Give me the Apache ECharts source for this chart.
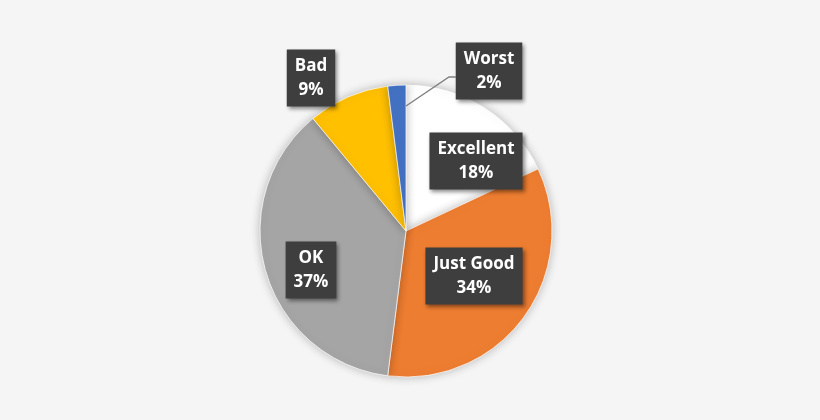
<!DOCTYPE html>
<html><head><meta charset="utf-8">
<script src="https://cdn.jsdelivr.net/npm/echarts@6/dist/echarts.min.js"></script>
<style>html,body{margin:0;padding:0;background:#F5F5F5;}#c{width:820px;height:420px;}</style>
</head><body><div id="c"></div>
<script>
const categories = ['Excellent', 'Just Good', 'OK', 'Bad', 'Worst'];
const values = [18, 34, 37, 9, 2];
const colors = ['#FFFFFF', '#ED7D31', '#A5A5A5', '#FFC000', '#4472C4'];
// label box centres, relative to the pie centre (px)
const labelOffsets = [[70, -70], [68, 45], [-95, 39], [-95, -153], [83, -160]];
const worstLeader = [[0, -125], [43, -154], [50, -154]];

const cx = 406, cy = 231;
const chart = echarts.init(document.getElementById('c'));
chart.setOption({
  backgroundColor: '#F5F5F5',
  animation: false,
  graphic: [{
    type: 'polyline',
    z: 100,
    shape: { points: worstLeader.map(function (pt) { return [cx + pt[0], cy + pt[1]]; }) },
    style: { stroke: '#7F7F7F', lineWidth: 1.3, fill: null }
  }],
  series: [{
    type: 'pie',
    center: [cx, cy],
    radius: 146,
    startAngle: 90,
    clockwise: true,
    z: 2,
    itemStyle: {
      borderColor: 'rgba(255,255,255,0.7)',
      borderWidth: 1,
      shadowBlur: 10,
      shadowColor: 'rgba(0,0,0,0.25)'
    },
    label: {
      show: true,
      position: 'outside',
      formatter: '{b}\n{c}%',
      color: '#FFFFFF',
      fontFamily: 'Open Sans',
      fontWeight: 'bold',
      fontSize: 17,
      lineHeight: 24,
      align: 'center',
      backgroundColor: '#3E3E3E',
      padding: [5, 8, 4, 8],
      shadowBlur: 4,
      shadowColor: 'rgba(0,0,0,0.45)',
      shadowOffsetX: 2,
      shadowOffsetY: 2
    },
    labelLine: { show: false },
    labelLayout: function (p) {
      const o = labelOffsets[p.dataIndex];
      return { x: cx + o[0], y: cy + o[1], align: 'center', verticalAlign: 'middle' };
    },
    data: categories.map(function (name, i) {
      return { name: name, value: values[i], itemStyle: { color: colors[i] } };
    })
  }]
});
</script></body></html>
